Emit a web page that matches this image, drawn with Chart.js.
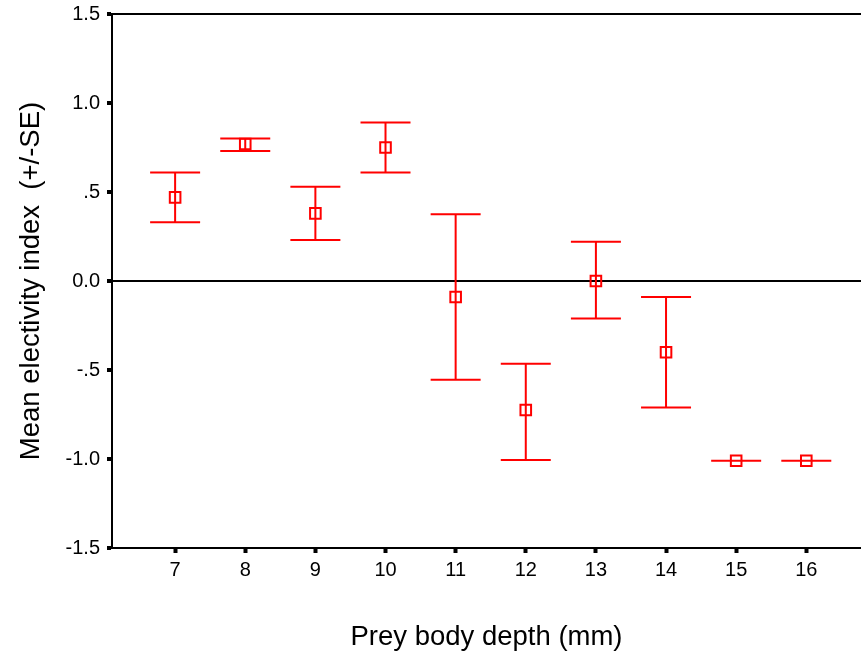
<!DOCTYPE html>
<html>
<head>
<meta charset="utf-8">
<script src="https://cdn.jsdelivr.net/npm/chart.js@4/dist/chart.umd.min.js"></script>
<style>
  html, body { margin: 0; padding: 0; background: #fff; overflow: hidden; }
  #wrap { width: 861px; height: 659px; }
  canvas { display: block; }
</style>
</head>
<body>
<div id="wrap"><canvas id="chart"></canvas></div>
<script>
const depths = [7, 8, 9, 10, 11, 12, 13, 14, 15, 16];
const means = [0.47, 0.77, 0.38, 0.75, -0.09, -0.725, 0.0, -0.40, -1.01, -1.01];
const upper = [0.61, 0.80, 0.53, 0.89, 0.375, -0.465, 0.22, -0.09, -1.01, -1.01];
const lower = [0.33, 0.73, 0.23, 0.61, -0.555, -1.005, -0.21, -0.71, -1.01, -1.01];
const yTicks = [-1.5, -1.0, -0.5, 0.0, 0.5, 1.0, 1.5];
const yTickLabels = ["-1.5", "-1.0", "-.5", "0.0", ".5", "1.0", "1.5"];

const red = "#ff0000";

// error bars drawn underneath the square markers
const errorBars = {
  id: "errorBars",
  beforeDatasetsDraw(chart) {
    const { ctx, scales: { x, y } } = chart;
    ctx.save();
    ctx.strokeStyle = red;
    ctx.lineWidth = 2;
    depths.forEach((d, i) => {
      const px = x.getPixelForValue(d);
      const top = y.getPixelForValue(upper[i]);
      const bot = y.getPixelForValue(lower[i]);
      ctx.beginPath();
      ctx.moveTo(px, top); ctx.lineTo(px, bot);
      ctx.moveTo(px - 25, top); ctx.lineTo(px + 25, top);
      ctx.moveTo(px - 25, bot); ctx.lineTo(px + 25, bot);
      ctx.stroke();
    });
    ctx.restore();
  }
};

new Chart(document.getElementById("chart"), {
  type: "scatter",
  data: {
    datasets: [{
      data: depths.map((d, i) => ({ x: d, y: means[i] })),
      pointStyle: "rect",
      pointRadius: 7.5,
      pointBorderWidth: 2,
      borderColor: red,
      backgroundColor: "rgba(0,0,0,0)"
    }]
  },
  options: {
    responsive: true,
    maintainAspectRatio: false,
    animation: false,
    // the plot runs off the right edge of the picture
    layout: { autoPadding: false, padding: { top: 14, right: 0, left: 0, bottom: 0 } },
    plugins: {
      legend: { display: false },
      tooltip: { enabled: false }
    },
    scales: {
      x: {
        type: "linear",
        min: 6.1,
        max: 16.78,
        afterBuildTicks: s => { s.ticks = depths.map(v => ({ value: v })); },
        afterFit: s => { s.height = 111; s.paddingLeft = 0; s.paddingRight = 0; },
        border: { color: "#000", width: 2 },
        grid: { drawOnChartArea: false, tickColor: "#000", tickWidth: 4, tickLength: 5 },
        ticks: { color: "#000", font: { family: "Liberation Sans", size: 20 }, padding: 5 },
        title: {
          display: true,
          text: "Prey body depth (mm)",
          color: "#000",
          font: { family: "Liberation Sans", size: 27.5 },
          padding: { top: 20, bottom: 5 }
        }
      },
      xTop: {
        type: "linear",
        position: "top",
        min: 6.1,
        max: 16.78,
        afterFit: s => { s.height = 0; s.paddingLeft = 0; s.paddingRight = 0; },
        border: { color: "#000", width: 2 },
        grid: { display: false },
        ticks: { display: false }
      },
      y: {
        min: -1.5,
        max: 1.5,
        afterBuildTicks: s => { s.ticks = yTicks.map(v => ({ value: v })); },
        afterFit: s => { s.width = 112; s.paddingTop = 0; s.paddingBottom = 0; },
        border: { color: "#000", width: 2 },
        grid: {
          color: c => (c.tick && c.tick.value === 0 ? "#000" : "rgba(0,0,0,0)"),
          lineWidth: 2,
          tickColor: "#000",
          tickWidth: 4,
          tickLength: 5
        },
        ticks: {
          color: "#000",
          font: { family: "Liberation Sans", size: 20 },
          padding: 7,
          callback: v => yTickLabels[yTicks.indexOf(v)]
        },
        title: {
          display: true,
          text: "Mean electivity index  (+/-SE)",
          color: "#000",
          font: { family: "Liberation Sans", size: 27.5 },
          padding: { top: 15, bottom: 0 }
        }
      }
    }
  },
  plugins: [errorBars]
});
</script>
</body>
</html>
